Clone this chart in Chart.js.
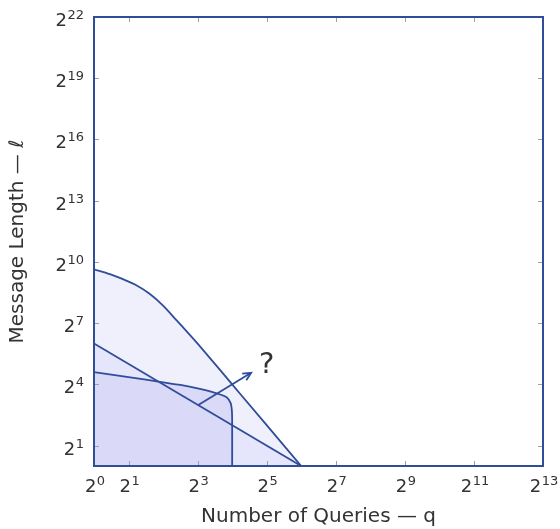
<!DOCTYPE html>
<html>
<head>
<meta charset="utf-8">
<script src="https://cdn.jsdelivr.net/npm/chart.js@4"></script>
<style>
  html, body { margin: 0; padding: 0; background: #ffffff; }
  #wrap { width: 560px; height: 529px; }
</style>
</head>
<body>
<div id="wrap"><canvas id="c" width="560" height="529"></canvas></div>
<script>
// ---- Data (log2 exponents) ----
const xTickExps = [0, 1, 3, 5, 7, 9, 11, 13];
const yTickExps = [1, 4, 7, 10, 13, 16, 19, 22];
const tickBase = '2';

const outerQ = [0, 0.46, 0.95, 1.2, 1.6, 2.0, 2.4, 2.8, 3, 4, 5, 6];
const outerL = [9.64, 9.40, 9.07, 8.88, 8.45, 7.86, 7.12, 6.38, 6.0, 4.0, 2.0, 0];

const middleQ = [0, 6];
const middleL = [6, 0];

const innerQ = [0, 1, 2, 2.5, 3, 3.55, 3.84, 3.96, 3.99, 4, 4];
const innerL = [4.6, 4.36, 4.1, 3.97, 3.8, 3.56, 3.37, 3.07, 2.75, 2.3, 0];

const arrowQ = [3.02, 4.55];
const arrowL = [2.99, 4.57];

const questionQ = 5.0;
const questionL = 4.95;
const questionText = '?';

const xTitle = 'Number of Queries — q';
const yTitle = 'Message Length — ℓ';

// ---- helpers ----
function pts(xs, ys) { return xs.map((x, i) => ({x: x, y: ys[i]})); }

const LINE = '#2f4d99';
const TEXT = '#333333';
const FONT = "'DejaVu Sans', sans-serif";
const BASE_PX = 18, SUP_PX = 13, SUP_RAISE = 7;

function drawPow(ctx, exp, x, baseline, align) {
  ctx.font = BASE_PX + 'px ' + FONT;
  const wb = ctx.measureText(tickBase).width;
  ctx.font = SUP_PX + 'px ' + FONT;
  const ws = ctx.measureText(String(exp)).width;
  const total = wb + ws + 0.5;
  const x0 = align === 'right' ? x - total : x - total / 2;
  ctx.textAlign = 'left';
  ctx.textBaseline = 'alphabetic';
  ctx.font = BASE_PX + 'px ' + FONT;
  ctx.fillText(tickBase, x0, baseline);
  ctx.font = SUP_PX + 'px ' + FONT;
  ctx.fillText(String(exp), x0 + wb + 0.5, baseline - SUP_RAISE);
}

const frameAndTicks = {
  id: 'frameAndTicks',
  afterDatasetsDraw(chart) {
    const {ctx, chartArea: a, scales} = chart;
    ctx.save();
    // inward tick marks on all four sides
    ctx.strokeStyle = '#a0a0a0';
    ctx.lineWidth = 1;
    const tl = 5;
    scales.x.ticks.forEach(t => {
      if (t.value === scales.x.min || t.value === scales.x.max) return;
      const px = Math.round(scales.x.getPixelForValue(t.value)) + 0.5;
      ctx.beginPath();
      ctx.moveTo(px, a.bottom); ctx.lineTo(px, a.bottom - tl);
      ctx.moveTo(px, a.top); ctx.lineTo(px, a.top + tl);
      ctx.stroke();
    });
    scales.y.ticks.forEach(t => {
      if (t.value === scales.y.min || t.value === scales.y.max) return;
      const py = Math.round(scales.y.getPixelForValue(t.value)) + 0.5;
      ctx.beginPath();
      ctx.moveTo(a.left, py); ctx.lineTo(a.left + tl, py);
      ctx.moveTo(a.right, py); ctx.lineTo(a.right - tl, py);
      ctx.stroke();
    });
    // frame
    ctx.strokeStyle = LINE;
    ctx.lineWidth = 2;
    ctx.strokeRect(a.left, a.top, a.right - a.left, a.bottom - a.top);

    // tick labels 2^n with real superscripts
    ctx.fillStyle = TEXT;
    scales.x.ticks.forEach(t => {
      drawPow(ctx, t.value, scales.x.getPixelForValue(t.value) + 1, a.bottom + 26, 'center');
    });
    scales.y.ticks.forEach(t => {
      drawPow(ctx, t.value, a.left - 10, scales.y.getPixelForValue(t.value) + 9, 'right');
    });

    // arrow head at end of arrow dataset
    const meta = chart.getDatasetMeta(3);
    const p0 = meta.data[0], p1 = meta.data[1];
    const ang = Math.atan2(p1.y - p0.y, p1.x - p0.x);
    const L = 9, w = 0.45;
    ctx.strokeStyle = LINE;
    ctx.lineWidth = 1.8;
    ctx.beginPath();
    ctx.moveTo(p1.x - L * Math.cos(ang - w), p1.y - L * Math.sin(ang - w));
    ctx.lineTo(p1.x, p1.y);
    ctx.lineTo(p1.x - L * Math.cos(ang + w), p1.y - L * Math.sin(ang + w));
    ctx.stroke();

    // question mark label
    ctx.fillStyle = TEXT;
    ctx.font = "29px " + FONT;
    ctx.textAlign = 'center';
    ctx.textBaseline = 'middle';
    ctx.fillText(questionText, scales.x.getPixelForValue(questionQ), scales.y.getPixelForValue(questionL));
    ctx.restore();
  }
};

new Chart(document.getElementById('c'), {
  type: 'line',
  data: {
    datasets: [
      { data: pts(innerQ, innerL), borderColor: LINE, borderWidth: 1.8, backgroundColor: '#dadaf8',
        fill: 'start', tension: 0.25, pointRadius: 0 },
      { data: pts(middleQ, middleL), borderColor: LINE, borderWidth: 1.8, backgroundColor: '#e5e5fb',
        fill: 'start', tension: 0, pointRadius: 0 },
      { data: pts(outerQ, outerL), borderColor: LINE, borderWidth: 1.8, backgroundColor: '#f0f0fd',
        fill: 'start', cubicInterpolationMode: 'monotone', pointRadius: 0 },
      { data: pts(arrowQ, arrowL), borderColor: LINE, borderWidth: 1.8, fill: false,
        tension: 0, pointRadius: 0 }
    ]
  },
  options: {
    responsive: false,
    animation: false,
    devicePixelRatio: 1,
    layout: { padding: { top: 17, right: 17, left: 0, bottom: 0 } },
    plugins: {
      legend: { display: false },
      tooltip: { enabled: false },
      filler: { drawTime: 'beforeDatasetsDraw' }
    },
    scales: {
      x: {
        type: 'linear', min: 0, max: 13,
        afterBuildTicks: s => { s.ticks = xTickExps.map(v => ({value: v})); },
        afterFit: s => { s.height = 63; s.paddingLeft = 0; s.paddingRight = 0; },
        grid: { display: false, drawTicks: false },
        border: { display: false },
        ticks: { display: false },
        title: { display: true, text: xTitle, color: TEXT, padding: { top: 0, bottom: 0 },
                 font: { family: FONT, size: 20 } }
      },
      y: {
        type: 'linear', min: 0, max: 22,
        afterBuildTicks: s => { s.ticks = yTickExps.map(v => ({value: v})); },
        afterFit: s => { s.width = 94; s.paddingTop = 0; s.paddingBottom = 0; },
        grid: { display: false, drawTicks: false },
        border: { display: false },
        ticks: { display: false },
        title: { display: true, text: yTitle, color: TEXT, padding: { top: 6, bottom: 0 },
                 font: { family: FONT, size: 20 } }
      }
    }
  },
  plugins: [frameAndTicks]
});
</script>
</body>
</html>
